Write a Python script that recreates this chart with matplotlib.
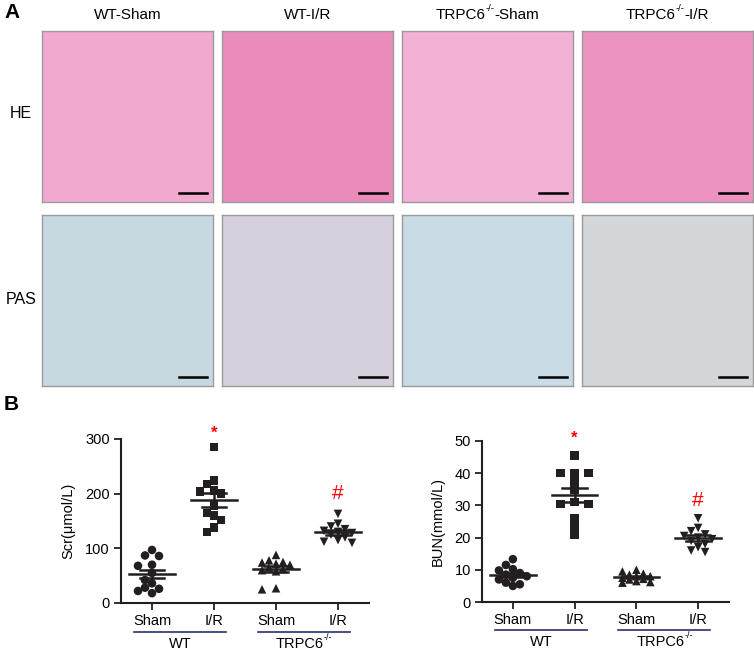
import numpy as np
import matplotlib
matplotlib.use('Agg')
import matplotlib.pyplot as plt
from matplotlib.patches import Rectangle

plt.rcParams['font.family'] = ['Liberation Sans', 'DejaVu Sans']

# panel A: column/row labels and mean tint of each micrograph
col_titles = [('WT-Sham', ''), ('WT-I/R', ''), ('TRPC6', '-/-', '-Sham'), ('TRPC6', '-/-', '-I/R')]
row_titles = ['HE', 'PAS']
tints = [['#f1a9d0', '#eb8bbb', '#f3b2d5', '#ec93c2'],
         ['#c6d9e1', '#d6d0dc', '#c9dbe5', '#d3d7d9']]

# panel B data
categories = ['Sham', 'I/R', 'Sham', 'I/R']
groups = [('WT', ''), ('TRPC6', '-/-', '')]
markers = ['o', 's', '^', 'v']

scr_wt_sham = [97, 87, 86, 70, 68, 55, 42, 36, 28, 26, 22, 18]
scr_wt_ir = [285, 224, 218, 206, 204, 200, 178, 165, 160, 152, 138, 130]
scr_ko_sham = [88, 78, 75, 74, 72, 70, 65, 62, 60, 58, 27, 25]
scr_ko_ir = [163, 145, 140, 135, 132, 130, 128, 125, 120, 115, 112, 110]

bun_wt_sham = [13.3, 11.5, 10.2, 9.8, 9.0, 8.5, 8.0, 7.5, 7.0, 6.0, 5.5, 5.0]
bun_wt_ir = [45.5, 40, 40, 40, 37.5, 35, 31, 30.5, 30.5, 26, 23.5, 21]
bun_ko_sham = [10, 9.5, 8.8, 8.5, 8.0, 8.0, 7.5, 7.2, 7.0, 6.5, 6.2, 6.0]
bun_ko_ir = [26, 23, 22, 21, 20.5, 20, 19.5, 19, 18, 17, 16, 15.5]

fig = plt.figure(figsize=(7.54, 6.51), dpi=100)
W, H = 754.0, 651.0
renderer = fig.canvas.get_renderer()


def px_axes(x0, y0, w, h):
    return fig.add_axes([x0 / W, 1 - (y0 + h) / H, w / W, h / H])


def sup_text(xc, yc, parts, size):
    # centred label "base" + small raised "-/-" + tail, xc/yc in figure pixels from top-left
    pieces = [(parts[0], size, 0)]
    if len(parts) > 2:
        pieces += [(parts[1], size * 0.62, size * 0.45), (parts[2], size, 0)]
    widths = []
    for s, fs, _ in pieces:
        t = fig.text(0, 0, s, fontsize=fs)
        widths.append(t.get_window_extent(renderer).width)
        t.remove()
    x = xc - sum(widths) / 2
    for (s, fs, dy), w in zip(pieces, widths):
        fig.text(x / W, 1 - (yc - dy * 100 / 72) / H, s, fontsize=fs, ha='left', va='center')
        x += w


col_x = [42, 222, 402, 582]
row_y = [31, 215]
for r in range(2):
    for c in range(4):
        ax = px_axes(col_x[c], row_y[r], 171, 171)
        ax.add_patch(Rectangle((0, 0), 1, 1, color=tints[r][c]))
        ax.plot([0.80, 0.965], [0.05, 0.05], color='black', lw=1.8)
        ax.set_xlim(0, 1)
        ax.set_ylim(0, 1)
        ax.set_xticks([])
        ax.set_yticks([])
        for s in ax.spines.values():
            s.set_color('#9a9a9a')
            s.set_linewidth(1)
for c in range(4):
    sup_text(col_x[c] + 85.5, 15, col_titles[c], 11)
fig.text(21 / W, 1 - 114 / H, row_titles[0], ha='center', va='center', fontsize=11.5)
fig.text(21 / W, 1 - 299 / H, row_titles[1], ha='center', va='center', fontsize=11.5)
fig.text(4 / W, 1 - 12 / H, 'A', ha='left', va='center', fontsize=15, fontweight='bold')
fig.text(4 / W, 1 - 404 / H, 'B', ha='left', va='center', fontsize=15, fontweight='bold')


def swarm(vals, ymax, ax_h_px):
    # GraphPad-like column scatter: points nudged sideways, some overlap allowed
    ypx = np.array(vals) / ymax * ax_h_px
    placed = []
    offs = []
    steps = [0, -1, 1, -2, 2]
    for v in ypx:
        best, best_d = 0, -1
        for k in steps:
            xo = k * 7.0
            d = min([np.hypot(xo - px, v - py) for px, py in placed] + [99])
            if d >= 7.5:
                best = xo
                break
            if d > best_d:
                best, best_d = xo, d
        placed.append((best, v))
        offs.append(best / 62.0)
    return np.array(offs)


def dot_panel(rect, series, ymax, yticks, ylabel, star_y, hash_y):
    ax = px_axes(*rect)
    ink = '#231f20'
    for i, vals in enumerate(series):
        xs = i + 1 + swarm(vals, ymax, rect[3])
        ax.scatter(xs, vals, marker=markers[i], s=38, color=ink, edgecolors='none', zorder=3, clip_on=False)
        m = np.mean(vals)
        sem = np.std(vals, ddof=1) / np.sqrt(len(vals))
        ax.plot([i + 1 - 0.37, i + 1 + 0.37], [m, m], color=ink, lw=1.8, zorder=4)
        ax.plot([i + 1 - 0.2, i + 1 + 0.2], [m + sem, m + sem], color=ink, lw=1.8, zorder=4)
        ax.plot([i + 1 - 0.2, i + 1 + 0.2], [m - sem, m - sem], color=ink, lw=1.8, zorder=4)
        ax.plot([i + 1, i + 1], [m - sem, m + sem], color=ink, lw=1.8, zorder=4)
    ax.text(2, star_y, '*', color='red', ha='center', va='center', fontsize=12, fontweight='bold')
    ax.text(4, hash_y, '#', color='red', ha='center', va='center', fontsize=15)
    ax.set_xlim(0.5, 4.5)
    ax.set_ylim(0, ymax)
    ax.set_yticks(yticks)
    ax.set_xticks([1, 2, 3, 4])
    ax.set_xticklabels(categories)
    ax.tick_params(labelsize=10.5, length=5, width=1.3, color=ink, pad=3)
    ax.tick_params(axis='x', labelsize=10.5, pad=3)
    for s in ['top', 'right']:
        ax.spines[s].set_visible(False)
    for s in ['left', 'bottom']:
        ax.spines[s].set_linewidth(1.5)
        ax.spines[s].set_color(ink)
    ax.set_ylabel(ylabel, fontsize=10.5, labelpad=7)
    tr = ax.get_xaxis_transform()
    for g, (a, b) in enumerate([(0.71, 2.2), (2.71, 4.2)]):
        ax.plot([a, b], [-0.177, -0.177], transform=tr, color='#2b2d6e', lw=1.2, clip_on=False)
        xc, yc = tr.transform(((a + b) / 2, -0.25))
        sup_text(xc, H - yc, groups[g], 10.5)
    return ax


dot_panel((121, 439, 248, 164), [scr_wt_sham, scr_wt_ir, scr_ko_sham, scr_ko_ir],
          300, [0, 100, 200, 300], 'Scr(μmol/L)', 311, 200)
dot_panel((482, 441, 247, 161), [bun_wt_sham, bun_wt_ir, bun_ko_sham, bun_ko_ir],
          50, [0, 10, 20, 30, 40, 50], 'BUN(mmol/L)', 50.8, 31.6)

fig.savefig('out.png', dpi=100)
